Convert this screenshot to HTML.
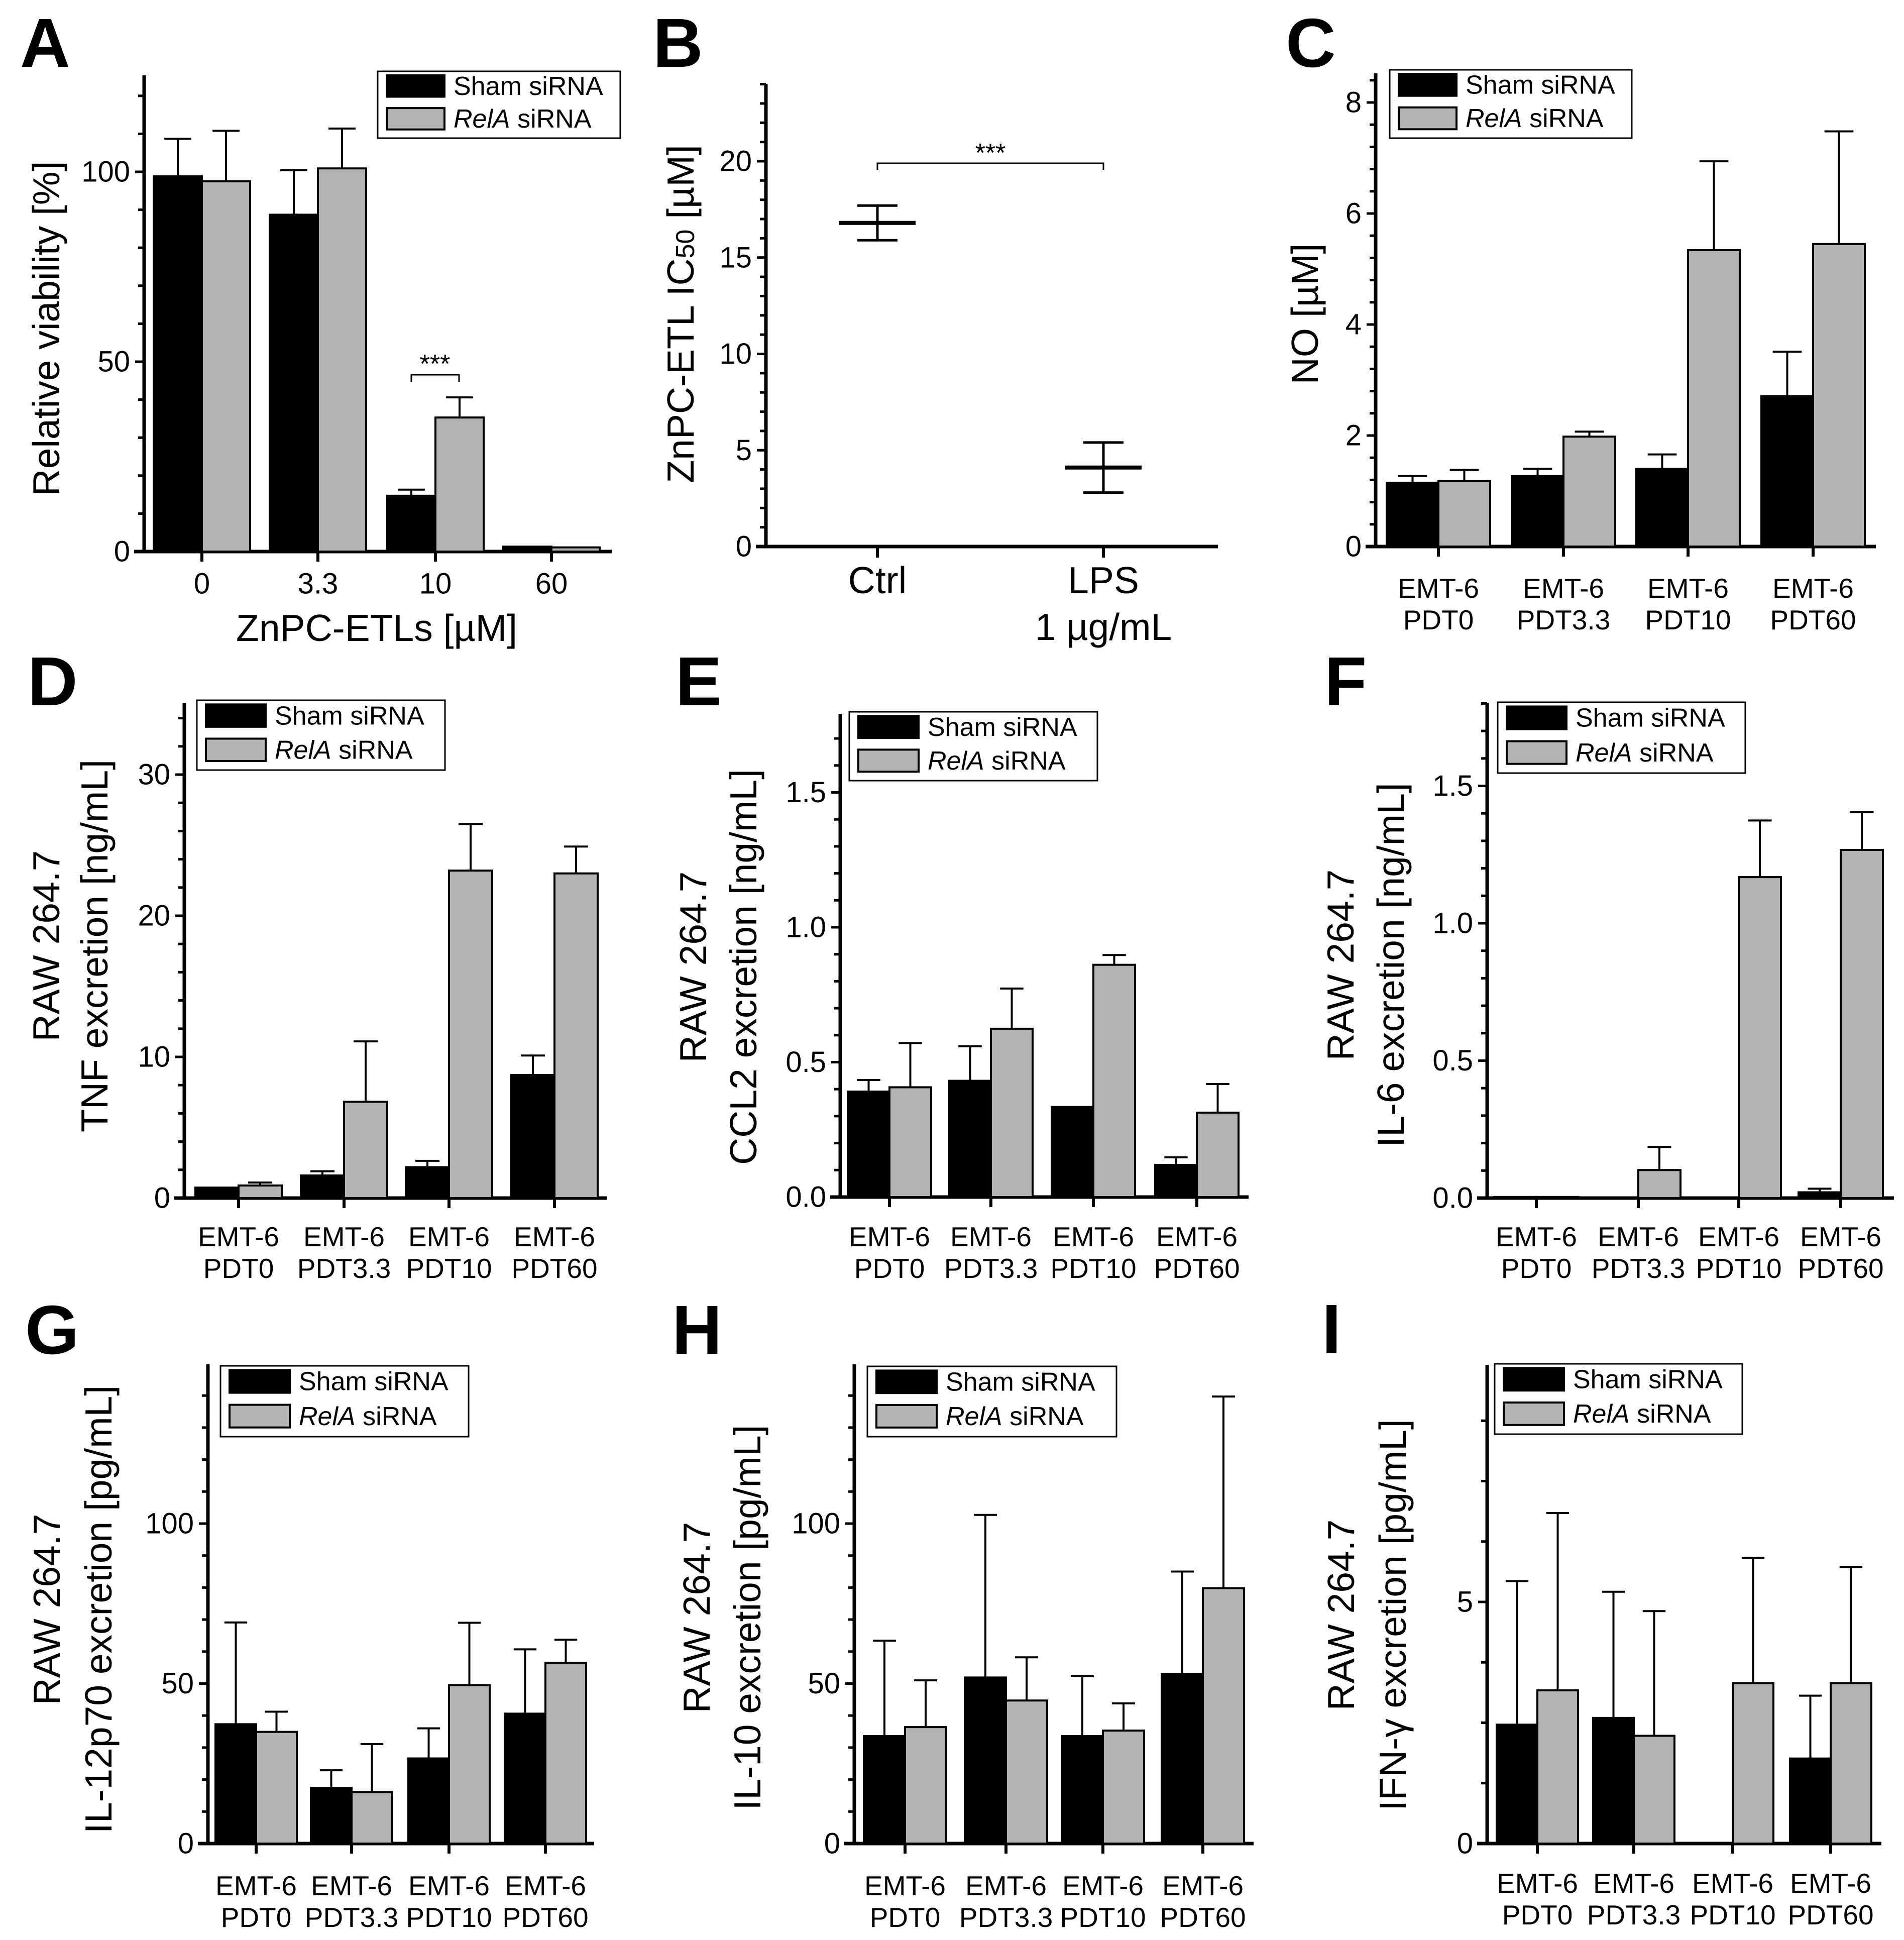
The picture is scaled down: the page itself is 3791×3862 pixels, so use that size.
<!DOCTYPE html>
<html><head><meta charset="utf-8"><title>Figure panels A-I</title>
<style>
html,body{margin:0;padding:0;background:#fff;}
svg{display:block;font-family:"Liberation Sans",Arial,sans-serif;}
</style></head>
<body>
<svg id="fig" width="3791" height="3862" viewBox="0 0 3791 3862" xmlns="http://www.w3.org/2000/svg"></svg>
<script>
// ---------- Data ----------
const groupLabels = ["PDT0","PDT3.3","PDT10","PDT60"];
const aCategories = ["0","3.3","10","60"];
const aSham = [98.8, 88.7, 14.7, 1.3];
const aShamErr = [108.7, 100.4, 16.3, 1.3];
const aRelA = [97.5, 100.9, 35.3, 1.1];
const aRelAErr = [110.8, 111.4, 40.6, 1.1];
const aTicks = [0, 50, 100];

const bCategories = ["Ctrl", "LPS"];
const bMeans = [16.8, 4.1];
const bLow = [15.9, 2.8];
const bHigh = [17.7, 5.4];
const bTicks = [0, 5, 10, 15, 20];

const cSham = [1.15, 1.27, 1.40, 2.71];
const cShamErr = [1.27, 1.40, 1.66, 3.51];
const cRelA = [1.18, 1.98, 5.34, 5.45];
const cRelAErr = [1.38, 2.07, 6.94, 7.48];
const cTicks = [0, 2, 4, 6, 8];

const dSham = [0.74, 1.6, 2.19, 8.72];
const dShamErr = [0.74, 1.9, 2.64, 10.1];
const dRelA = [0.89, 6.82, 23.2, 23.0];
const dRelAErr = [1.1, 11.1, 26.5, 24.9];
const dTicks = [0, 10, 20, 30];

const eSham = [0.391, 0.431, 0.334, 0.119];
const eShamErr = [0.434, 0.559, 0.334, 0.147];
const eRelA = [0.407, 0.624, 0.861, 0.313];
const eRelAErr = [0.571, 0.773, 0.897, 0.419];
const eTicks = [0, 0.5, 1.0, 1.5];

const fSham = [0.004, 0, 0, 0.021];
const fShamErr = [0.004, 0, 0, 0.034];
const fRelA = [0.004, 0.102, 1.168, 1.267];
const fRelAErr = [0.004, 0.186, 1.374, 1.404];
const fTicks = [0, 0.5, 1.0, 1.5];

const gSham = [37.3, 17.4, 26.6, 40.6];
const gShamErr = [69.1, 22.9, 36.0, 60.7];
const gRelA = [34.9, 16.1, 49.5, 56.5];
const gRelAErr = [41.2, 31.1, 69.0, 63.7];
const gTicks = [0, 50, 100];

const hSham = [33.6, 51.9, 33.6, 53.0];
const hShamErr = [63.4, 102.7, 52.3, 85.0];
const hRelA = [36.4, 44.7, 35.3, 79.8];
const hRelAErr = [51.0, 58.2, 43.8, 139.7];
const hTicks = [0, 50, 100];

const iSham = [2.46, 2.6, 0, 1.76];
const iShamErr = [5.43, 5.21, 0, 3.06];
const iRelA = [3.17, 2.23, 3.32, 3.32];
const iRelAErr = [6.84, 4.81, 5.91, 5.72];
const iTicks = [0, 5];

// ---------- Helpers ----------
const NS = "http://www.w3.org/2000/svg";
const svg = document.getElementById("fig");
function mk(tag, attrs, parent) {
  const e = document.createElementNS(NS, tag);
  for (const k in attrs) e.setAttribute(k, attrs[k]);
  (parent || svg).appendChild(e);
  return e;
}
function txt(s, x, y, size, parent, extra) {
  const t = mk("text", Object.assign({x: x, y: y, "font-size": size, fill: "#000"}, extra || {}), parent);
  t.textContent = s;
  return t;
}
function fmt(v, dec) { return dec ? v.toFixed(dec) : String(v); }

function drawAxes(g, p, ticks, dec) {
  const y = v => p.base - v * p.ppu;
  const ya = mk("line", {x1: p.axisX, y1: p.base + 3, x2: p.axisX, y2: p.top, stroke: "#000", "stroke-width": 7}, g);
  
  
  const xa = mk("line", {x1: p.axisX - 20, y1: p.base, x2: p.right, y2: p.base, stroke: "#000", "stroke-width": 7}, g);
  
  
  const nMinor = Math.floor(((p.base - p.top) / p.ppu) / p.minor + 1e-6);
  for (let i = 1; i <= nMinor; i++) {
    const v = i * p.minor;
    const tk = mk("line", {x1: p.axisX - 12, y1: y(v), x2: p.axisX, y2: y(v), stroke: "#000", "stroke-width": 5}, g);
    
    
  }
  ticks.forEach(v => {
    const tk = mk("line", {x1: p.axisX - 18, y1: y(v), x2: p.axisX, y2: y(v), stroke: "#000", "stroke-width": 5}, g);
    
    
    const t = txt(fmt(v, dec), p.axisX - 28, y(v), 58, g, {"text-anchor": "end", "dominant-baseline": "central"});
    
    
  });
  return y;
}
function yTitle(g, lines, xs, cy) {
  lines.forEach((s, i) => {
    const t = txt(s, xs[i], cy, 75, g, {"text-anchor": "middle", "dominant-baseline": "central", transform: "rotate(-90 " + xs[i] + " " + cy + ")"});
    
    
  });
}
function panelLetter(g, s, x, yb) {
  const t = txt(s, x, yb, 138, g, {"font-weight": "bold"});
  
  
}
function legend(g, L) {
  const lg = mk("g", {}, g);
  
  
  mk("rect", {x: L.x, y: L.y, width: L.w, height: L.h, fill: "#fff", stroke: "#000", "stroke-width": 3}, lg);
  const rowH = L.h / 2;
  const sw = L.sw;
  const s1 = mk("rect", {x: L.x + 18, y: L.y + rowH * 0.12, width: sw, height: rowH * 0.64, fill: "#000", stroke: "#000", "stroke-width": 4}, lg);
  
  
  const s2 = mk("rect", {x: L.x + 18, y: L.y + rowH * 1.1, width: sw, height: rowH * 0.64, fill: "#b3b3b3", stroke: "#000", "stroke-width": 4}, lg);
  
  
  const t1 = txt("Sham siRNA", L.x + 36 + sw, L.y + rowH * 0.45, 52, lg, {"dominant-baseline": "central"});
  
  
  const t2 = mk("text", {x: L.x + 36 + sw, y: L.y + rowH * 1.43, "font-size": 52, "dominant-baseline": "central"}, lg);
  
  
  const it = mk("tspan", {"font-style": "italic"}, t2); it.textContent = "RelA";
  const rs = mk("tspan", {}, t2); rs.textContent = " siRNA";
}
function barPanel(name, p, sham, shamErr, rela, relaErr, ticks, dec, cats) {
  const g = mk("g", {});
  
  
  const y = drawAxes(g, p, ticks, dec);
  const cap = p.bw * 0.28;
  const series = [[sham, shamErr, "#000", -1, "sham"], [rela, relaErr, "#b3b3b3", 0, "rela"]];
  p.centers.forEach((cx, i) => {
    series.forEach(s => {
      const v = s[0][i], e = s[1][i];
      const x0 = cx + s[3] * p.bw;
      const mid = x0 + p.bw / 2;
      if (e > v) {
        const el = mk("line", {x1: mid, y1: y(v), x2: mid, y2: y(e), stroke: "#000", "stroke-width": 4}, g);
        
        
        const ec = mk("line", {x1: mid - cap, y1: y(e), x2: mid + cap, y2: y(e), stroke: "#000", "stroke-width": 4}, g);
        
        
      }
      if (v > 0) {
        const h = Math.max(v * p.ppu, 2);
        const b = mk("rect", {x: x0, y: p.base - h, width: p.bw, height: h, fill: s[2], stroke: "#000", "stroke-width": 4}, g);
        
        
      }
    });
    const tk = mk("line", {x1: cx, y1: p.base, x2: cx, y2: p.base + 20, stroke: "#000", "stroke-width": 6}, g);
    
    
    if (cats) {
      const t = txt(cats[i], cx, p.labY, 58, g, {"text-anchor": "middle", "dominant-baseline": "central"});
      
      
    } else {
      const t1 = txt("EMT-6", cx, p.labY, 55, g, {"text-anchor": "middle", "dominant-baseline": "central"});
      
      
      const t2 = txt(groupLabels[i], cx, p.labY + 63, 55, g, {"text-anchor": "middle", "dominant-baseline": "central"});
      
      
    }
  });
  return g;
}

// ---------- Panel A ----------
let gA = barPanel("panel-a", {axisX: 287, base: 1098, top: 150, right: 1218, ppu: 7.56, minor: 10, bw: 96,
  centers: [402, 633, 867, 1098], labY: 1162}, aSham, aShamErr, aRelA, aRelAErr, aTicks, 0, aCategories);
panelLetter(gA, "A", 40, 133);
yTitle(gA, ["Relative viability [%]"], [92], 654);
let xtA = txt("ZnPC-ETLs [\u00b5M]", 750, 1250, 75, gA, {"text-anchor": "middle", "dominant-baseline": "central"});


legend(gA, {x: 752, y: 142, w: 483, h: 133, sw: 115});
let brA = mk("path", {d: "M819 760 V746 H914 V760", fill: "none", stroke: "#000", "stroke-width": 3}, gA);


let stA = txt("***", 866, 725, 52, gA, {"text-anchor": "middle", "dominant-baseline": "central"});



// ---------- Panel B ----------
(function () {
  const g = mk("g", {});
  
  
  const p = {axisX: 1525, base: 1088, top: 167, right: 2425, ppu: 38.35, minor: 1};
  const y = drawAxes(g, p, bTicks, 0);
  const xs = [1747, 2197];
  bCategories.forEach((c, i) => {
    const cx = xs[i];
    const tk = mk("line", {x1: cx, y1: p.base, x2: cx, y2: p.base + 22, stroke: "#000", "stroke-width": 6}, g);
    
    
    const v = mk("line", {x1: cx, y1: y(bLow[i]), x2: cx, y2: y(bHigh[i]), stroke: "#000", "stroke-width": 5}, g);
    
    
    [bLow[i], bHigh[i]].forEach(e => {
      const cp = mk("line", {x1: cx - 40, y1: y(e), x2: cx + 40, y2: y(e), stroke: "#000", "stroke-width": 5}, g);
      
      
    });
    const m = mk("line", {x1: cx - 76, y1: y(bMeans[i]), x2: cx + 76, y2: y(bMeans[i]), stroke: "#000", "stroke-width": 8}, g);
    
    
    const t = txt(c, cx, 1155, 75, g, {"text-anchor": "middle", "dominant-baseline": "central"});
    
    
  });
  const t2 = txt("1 \u00b5g/mL", 2197, 1248, 75, g, {"text-anchor": "middle", "dominant-baseline": "central"});
  
  
  panelLetter(g, "B", 1300, 133);
  const yt = mk("text", {x: 0, y: 0, "font-size": 75, "text-anchor": "middle", "dominant-baseline": "central", transform: "translate(1355 625) rotate(-90)"}, g);
  
  
  const a1 = mk("tspan", {}, yt); a1.textContent = "ZnPC-ETL IC";
  const a2 = mk("tspan", {"font-size": 52, dy: 10}, yt); a2.textContent = "50";
  const a3 = mk("tspan", {dy: -10}, yt); a3.textContent = " [\u00b5M]";
  const br = mk("path", {d: "M1747 338 V325 H2197 V338", fill: "none", stroke: "#000", "stroke-width": 3}, g);
  
  
  const st = txt("***", 1972, 305, 52, g, {"text-anchor": "middle", "dominant-baseline": "central"});
  
  
})();

// ---------- Panel C ----------
let gC = barPanel("panel-c", {axisX: 2739, base: 1088, top: 146, right: 3735, ppu: 110.5, minor: 0.4, bw: 103,
  centers: [2864, 3113, 3361, 3610], labY: 1171}, cSham, cShamErr, cRelA, cRelAErr, cTicks, 0);
panelLetter(gC, "C", 2560, 133);
yTitle(gC, ["NO [\u00b5M]"], [2598], 625);
legend(gC, {x: 2767, y: 139, w: 482, h: 136, sw: 115});

// ---------- Panel D ----------
let gD = barPanel("panel-d", {axisX: 367, base: 2385, top: 1400, right: 1208, ppu: 28.1, minor: 2, bw: 86,
  centers: [475, 685, 894, 1104], labY: 2462}, dSham, dShamErr, dRelA, dRelAErr, dTicks, 0);
panelLetter(gD, "D", 55, 1404);
yTitle(gD, ["RAW 264.7", "TNF excretion [ng/mL]"], [92, 188], 1883);
legend(gD, {x: 392, y: 1394, w: 494, h: 139, sw: 119});

// ---------- Panel E ----------
let gE = barPanel("panel-e", {axisX: 1673, base: 2383, top: 1421, right: 2486, ppu: 537, minor: 0.1, bw: 83,
  centers: [1771, 1973, 2177, 2383], labY: 2462}, eSham, eShamErr, eRelA, eRelAErr, eTicks, 1);
panelLetter(gE, "E", 1345, 1404);
yTitle(gE, ["RAW 264.7", "CCL2 excretion [ng/mL]"], [1380, 1480], 1925);
legend(gE, {x: 1691, y: 1417, w: 494, h: 137, sw: 120});

// ---------- Panel F ----------
let gF = barPanel("panel-f", {axisX: 2961, base: 2385, top: 1400, right: 3771, ppu: 547, minor: 0.1, bw: 84,
  centers: [3059, 3262, 3462, 3665], labY: 2462}, fSham, fShamErr, fRelA, fRelAErr, fTicks, 1);
panelLetter(gF, "F", 2637, 1404);
yTitle(gF, ["RAW 264.7", "IL-6 excretion [ng/mL]"], [2669, 2769], 1921);
legend(gF, {x: 2982, y: 1398, w: 493, h: 141, sw: 119});

// ---------- Panel G ----------
let gG = barPanel("panel-g", {axisX: 414, base: 3670, top: 2716, right: 1183, ppu: 6.37, minor: 10, bw: 81,
  centers: [510, 700, 894, 1086], labY: 3754}, gSham, gShamErr, gRelA, gRelAErr, gTicks, 0);
panelLetter(gG, "G", 50, 2695);
yTitle(gG, ["RAW 264.7", "IL-12p70 excretion [pg/mL]"], [93, 196], 3204);
legend(gG, {x: 439, y: 2719, w: 494, h: 141, sw: 120});

// ---------- Panel H ----------
let gH = barPanel("panel-h", {axisX: 1701, base: 3670, top: 2716, right: 2496, ppu: 6.37, minor: 10, bw: 82,
  centers: [1802, 2003, 2196, 2395], labY: 3754}, hSham, hShamErr, hRelA, hRelAErr, hTicks, 0);
panelLetter(gH, "H", 1338, 2695);
yTitle(gH, ["RAW 264.7", "IL-10 excretion [pg/mL]"], [1387, 1488], 3220);
legend(gH, {x: 1727, y: 2720, w: 496, h: 140, sw: 120});

// ---------- Panel I ----------
let gI = barPanel("panel-i", {axisX: 2961, base: 3670, top: 2717, right: 3746, ppu: 96.2, minor: 1.25, bw: 81,
  centers: [3061, 3253, 3450, 3645], labY: 3749}, iSham, iShamErr, iRelA, iRelAErr, iTicks, 0);
panelLetter(gI, "I", 2632, 2693);
yTitle(gI, ["RAW 264.7", "IFN-\u03b3 excretion [pg/mL]"], [2670, 2773], 3215);
legend(gI, {x: 2976, y: 2715, w: 493, h: 140, sw: 120});
</script>
</body></html>
